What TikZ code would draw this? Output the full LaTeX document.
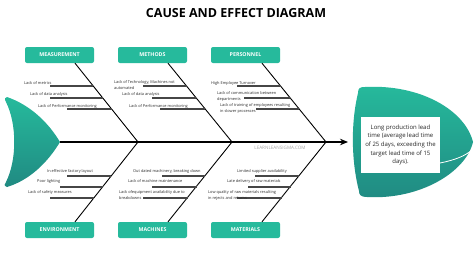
\documentclass[tikz,border=0pt]{standalone}
\usepackage{fontspec}
\setmainfont{Open Sans}
\usetikzlibrary{arrows.meta,calc}
\definecolor{tealA}{RGB}{38,186,156}
\definecolor{tealB}{RGB}{32,138,130}
\definecolor{subline}{RGB}{70,70,70}
\definecolor{subtext}{RGB}{45,45,45}
\tikzset{
  catbox/.style={fill=tealA, rounded corners=2pt, minimum width=69pt, minimum height=16pt, inner sep=0pt, text=white, font=\bfseries\fontsize{5.3}{6}\selectfont},
  bone/.style={line width=0.9pt, black},
  subbone/.style={line width=1.1pt, subline},
  cause/.style={inner sep=0pt, text=subtext, font=\fontsize{3.9}{6.2}\selectfont, align=left},
}
\begin{document}
\begin{tikzpicture}[x=1pt,y=-1pt]
\useasboundingbox (0,0) rectangle (474,255);
\fill[white] (0,0) rectangle (474,255);

\node[font=\bfseries\fontsize{12.5}{14}\selectfont, text=black] (title) at (236,13) {CAUSE AND EFFECT DIAGRAM};

% tail
\shade[top color=tealA, bottom color=tealB]
  (7,97) .. controls (30,105) and (48,122) .. (60,142)
  .. controls (48,162) and (30,180) .. (7,187)
  .. controls (4,186) and (4,184) .. (6,182)
  .. controls (17,160) and (17,124) .. (6,102)
  .. controls (4,99) and (5,97) .. (7,97) -- cycle;

% head
\shade[top color=tealA, bottom color=tealB]
  (358,93) .. controls (358,88) and (360,87) .. (365,87)
  .. controls (420,84) and (465,110) .. (473,142)
  .. controls (466,172) and (420,200) .. (367,197)
  .. controls (361,197) and (359,195) .. (359,191)
  .. controls (351,160) and (351,122) .. (358,93) -- cycle;
\draw[white, line width=0.8pt] (440,163) .. controls (455,160) and (465,156) .. (472,150);

\node[fill=white, minimum width=79pt, minimum height=56pt, inner sep=0pt, align=center,
      font=\fontsize{6}{8.7}\selectfont, text=black!85] (effect) at (400.5,145)
  {Long production lead\\time (average lead time\\of 25 days, exceeding the\\target lead time of 15\\days).};

% spine
\coordinate (tailtip) at (60,142);
\coordinate (arrowend) at (348,142);
\coordinate (j1) at (138,142);
\coordinate (j2) at (232,142);
\coordinate (j3) at (326,142);
\draw[line width=1.3pt, -{Stealth[length=8pt,width=6.5pt]}] (tailtip) -- (arrowend);

\node[text=black!35, font=\fontsize{4.6}{5}\selectfont] (wm) at (280,148) {LEARNLEANSIGMA.COM};

% category boxes
\node[catbox] (meas) at (59.5,55) {MEASUREMENT};
\node[catbox] (meth) at (152.5,55) {METHODS};
\node[catbox] (pers) at (245.5,55) {PERSONNEL};
\node[catbox] (env) at (59.5,230) {ENVIRONMENT};
\node[catbox] (mach) at (152.5,230) {MACHINES};
\node[catbox] (mat) at (245.5,230) {MATERIALS};

% main bones
\draw[bone] ([xshift=15.5pt]meas.south) -- (j1);
\draw[bone] ([xshift=15.5pt]meth.south) -- (j2);
\draw[bone] ([xshift=16.5pt]pers.south) -- (j3);
\draw[bone] (j1) -- ([xshift=15.5pt]env.north);
\draw[bone] (j2) -- ([xshift=15.5pt]mach.north);
\draw[bone] (j3) -- ([xshift=16.5pt]mat.north);

% sub-bones top
\draw[subbone] (50,86) -- (93.3,86);
\draw[subbone] (50,98) -- (102.9,98);
\draw[subbone] (67,109) -- (111.7,109);
\draw[subbone] (143,86) -- (186.3,86);
\draw[subbone] (152,98) -- (195.9,98);
\draw[subbone] (160,109) -- (204.7,109);
\draw[subbone] (237,86) -- (280.3,86);
\draw[subbone] (244,98) -- (289.9,98);
\draw[subbone] (256,109) -- (298.7,109);
% sub-bones bottom
\draw[subbone] (67,176) -- (111.2,176);
\draw[subbone] (60,187) -- (102.6,187);
\draw[subbone] (50,198) -- (93.9,198);
\draw[subbone] (162,176) -- (205.2,176);
\draw[subbone] (152,187) -- (196.6,187);
\draw[subbone] (143,198) -- (187.9,198);
\draw[subbone] (255,176) -- (299.2,176);
\draw[subbone] (248,187) -- (290.6,187);
\draw[subbone] (237,198) -- (281.9,198);

% cause texts top
\node[cause, anchor=west] (m1) at (24,83) {Lack of metrics};
\node[cause, anchor=west] (m2) at (30,94.5) {Lack of data analysis};
\node[cause, anchor=west] (m3) at (38,106) {Lack of Performance monitoring};
\node[cause, anchor=north west] (t1) at (114,80.5) {Lack of Technology, Machines not\\automated};
\node[cause, anchor=west] (t2) at (122,94.5) {Lack of data analysis};
\node[cause, anchor=west] (t3) at (129,106) {Lack of Performance monitoring};
\node[cause, anchor=west] (p1) at (211,83) {High Employee Turnover};
\node[cause, anchor=north west] (p2) at (217,91.5) {Lack of communication between\\departments};
\node[cause, anchor=north west] (p3) at (220,103.5) {Lack of training of employees resulting\\in slower processes};
% cause texts bottom
\node[cause, anchor=west] (e1) at (47,171) {In effective factory layout};
\node[cause, anchor=west] (e2) at (37,181.5) {Poor lighting};
\node[cause, anchor=west] (e3) at (28,192.5) {Lack of safety measures};
\node[cause, anchor=west] (a1) at (133,171) {Out dated machinery, breaking down};
\node[cause, anchor=west] (a2) at (128,181.5) {Lack of machine maintenance};
\node[cause, anchor=north west] (a3) at (119,190.5) {Lack ofequipment availability due to\\breakdowns};
\node[cause, anchor=west] (r1) at (237,171) {Limited supplier availability};
\node[cause, anchor=west] (r2) at (227,181.5) {Late delivery of raw materials};
\node[cause, anchor=north west] (r3) at (208,190.5) {Low quality of raw materials resulting\\in rejects and returns};
\end{tikzpicture}
\end{document}
